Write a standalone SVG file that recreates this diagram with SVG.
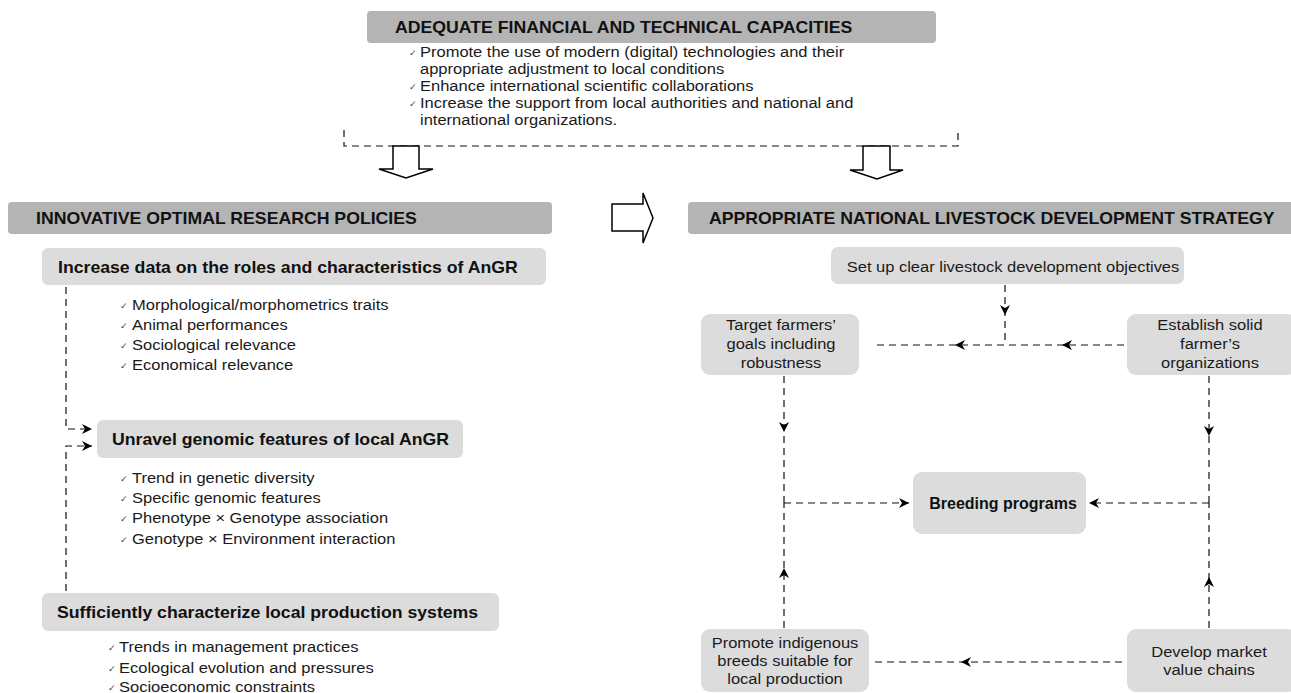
<svg xmlns="http://www.w3.org/2000/svg" width="1291" height="693" viewBox="0 0 1291 693">
<defs>
<style>
.hbox{fill:#b4b4b4}
.sbox{fill:#dcdcdc}
.hd{font-family:"Liberation Sans",Arial,sans-serif;font-weight:bold;font-size:17px;fill:#111}
.bt{font-family:"Liberation Sans",Arial,sans-serif;font-weight:bold;font-size:17px;fill:#111}
.tx{font-family:"Liberation Sans",Arial,sans-serif;font-size:15px;fill:#1a1a1a}
.ck{font-family:"DejaVu Sans",sans-serif;font-size:9px;fill:#444}
.dash{fill:none;stroke:#111;stroke-width:1.2;stroke-dasharray:7 5}
.mid{marker-mid:url(#ah)}
.end{marker-end:url(#ah)}
.hollow{fill:#fff;stroke:#000;stroke-width:1.5;stroke-linejoin:miter}
</style>
<marker id="ah" viewBox="-11 -6 12 12" refX="0" refY="0" markerWidth="12" markerHeight="12" markerUnits="userSpaceOnUse" orient="auto">
<path d="M-10,-5 L0,0 L-10,5 L-7,0 z" fill="#000"/>
</marker>
</defs>
<rect width="1291" height="693" fill="#fff"/>

<g id="n-top">
<rect class="hbox" x="367" y="11" width="569" height="32" rx="4"/>
<text class="hd" transform="translate(395,33) scale(1.04,1)">ADEQUATE FINANCIAL AND TECHNICAL CAPACITIES</text>
<text class="ck" x="409" y="56">✓</text>
<text class="tx" transform="translate(420,57) scale(1.1,1)">Promote the use of modern (digital) technologies and their</text>
<text class="tx" transform="translate(420,74) scale(1.1,1)">appropriate adjustment to local conditions</text>
<text class="ck" x="409" y="90">✓</text>
<text class="tx" transform="translate(420,91) scale(1.1,1)">Enhance international scientific collaborations</text>
<text class="ck" x="409" y="107">✓</text>
<text class="tx" transform="translate(420,108) scale(1.1,1)">Increase the support from local authorities and national and</text>
<text class="tx" transform="translate(420,125) scale(1.1,1)">international organizations.</text>
</g>

<g id="n-left-header">
<rect class="hbox" x="8" y="202" width="544" height="32" rx="4"/>
<text class="hd" transform="translate(36,224) scale(1.04,1)">INNOVATIVE OPTIMAL  RESEARCH POLICIES</text>
</g>

<g id="n-increase">
<rect class="sbox" x="42" y="248" width="504" height="37" rx="6"/>
<text class="bt" transform="translate(58,273) scale(1.04,1)">Increase data on the roles and characteristics of  AnGR</text>
<text class="ck" x="120" y="309">✓</text>
<text class="tx" transform="translate(132,310) scale(1.1,1)">Morphological/morphometrics traits</text>
<text class="ck" x="120" y="329">✓</text>
<text class="tx" transform="translate(132,330) scale(1.1,1)">Animal performances</text>
<text class="ck" x="120" y="349">✓</text>
<text class="tx" transform="translate(132,350) scale(1.1,1)">Sociological relevance</text>
<text class="ck" x="120" y="369">✓</text>
<text class="tx" transform="translate(132,370) scale(1.1,1)">Economical relevance</text>
</g>

<g id="n-unravel">
<rect class="sbox" x="97" y="420" width="366" height="38" rx="6"/>
<text class="bt" transform="translate(112,445) scale(1.04,1)">Unravel genomic features of local AnGR</text>
<text class="ck" x="120" y="482">✓</text>
<text class="tx" transform="translate(132,483) scale(1.1,1)">Trend in genetic diversity</text>
<text class="ck" x="120" y="502">✓</text>
<text class="tx" transform="translate(132,503) scale(1.1,1)">Specific genomic features</text>
<text class="ck" x="120" y="522">✓</text>
<text class="tx" transform="translate(132,523) scale(1.1,1)">Phenotype × Genotype association</text>
<text class="ck" x="120" y="543">✓</text>
<text class="tx" transform="translate(132,544) scale(1.1,1)">Genotype × Environment interaction</text>
</g>

<g id="n-sufficient">
<rect class="sbox" x="42" y="593" width="457" height="38" rx="6"/>
<text class="bt" transform="translate(57,618) scale(1.04,1)">Sufficiently characterize local production systems</text>
<text class="ck" x="108" y="651">✓</text>
<text class="tx" transform="translate(119,652) scale(1.1,1)">Trends in management practices</text>
<text class="ck" x="108" y="672">✓</text>
<text class="tx" transform="translate(119,673) scale(1.1,1)">Ecological evolution and pressures</text>
<text class="ck" x="108" y="691">✓</text>
<text class="tx" transform="translate(119,692) scale(1.1,1)">Socioeconomic constraints</text>
</g>

<g id="n-right-header">
<rect class="hbox" x="688" y="202" width="610" height="32" rx="4"/>
<text class="hd" transform="translate(709,224) scale(1.04,1)">APPROPRIATE NATIONAL LIVESTOCK DEVELOPMENT STRATEGY</text>
</g>

<g id="n-setup">
<rect class="sbox" x="831" y="247" width="353" height="37" rx="7"/>
<text class="tx" text-anchor="middle" transform="translate(1013,272) scale(1.1,1)">Set up clear livestock development objectives</text>
</g>

<g id="n-target">
<rect class="sbox" x="701" y="314" width="158" height="61" rx="9"/>
<text class="tx" text-anchor="middle" transform="translate(781,330) scale(1.1,1)">Target farmers’</text>
<text class="tx" text-anchor="middle" transform="translate(781,349) scale(1.1,1)">goals including</text>
<text class="tx" text-anchor="middle" transform="translate(781,368) scale(1.1,1)">robustness</text>
</g>

<g id="n-establish">
<rect class="sbox" x="1127" y="314" width="170" height="61" rx="9"/>
<text class="tx" text-anchor="middle" transform="translate(1210,330) scale(1.1,1)">Establish solid</text>
<text class="tx" text-anchor="middle" transform="translate(1210,349) scale(1.1,1)">farmer’s</text>
<text class="tx" text-anchor="middle" transform="translate(1210,368) scale(1.1,1)">organizations</text>
</g>

<g id="n-breeding">
<rect class="sbox" x="913" y="472" width="173" height="62" rx="9"/>
<text class="bt" text-anchor="middle" style="font-size:16px" transform="translate(1003,509)">Breeding programs</text>
</g>

<g id="n-promote">
<rect class="sbox" x="701" y="629" width="168" height="63" rx="9"/>
<text class="tx" text-anchor="middle" transform="translate(785,648) scale(1.1,1)">Promote indigenous</text>
<text class="tx" text-anchor="middle" transform="translate(785,666) scale(1.1,1)">breeds suitable for</text>
<text class="tx" text-anchor="middle" transform="translate(785,684) scale(1.1,1)">local production</text>
</g>

<g id="n-develop">
<rect class="sbox" x="1127" y="629" width="170" height="63" rx="9"/>
<text class="tx" text-anchor="middle" transform="translate(1209,657) scale(1.1,1)">Develop market</text>
<text class="tx" text-anchor="middle" transform="translate(1209,675) scale(1.1,1)">value chains</text>
</g>

<g id="connectors">
<path class="dash" d="M344,130 V146 H958 V130"/>
<path class="hollow" d="M393,146 H419 V169 H433 L406,178 L379,169 H393 Z"/>
<path class="hollow" d="M863,146 H890 V170 H903 L877,179 L850,170 H863 Z"/>
<path class="hollow" d="M612,204 H643 V193 L653,218 L643,243 V231 H612 Z"/>
<path class="dash end" d="M66,287 V429 H92"/>
<path class="dash end" d="M66,591 V446 H92"/>
<path class="dash mid" d="M1005,285 L1005,315 L1005,345"/>
<path class="dash mid" d="M1124,345 L1062,345 L955,345 L874,345"/>
<path class="dash mid" d="M784,376 L784,432 L784,503"/>
<path class="dash mid" d="M784,628 L784,568 L784,503"/>
<path class="dash end" d="M784,503 L909,503"/>
<path class="dash mid" d="M1209,376 L1209,436 L1209,503"/>
<path class="dash mid" d="M1209,628 L1209,577 L1209,503"/>
<path class="dash end" d="M1209,503 L1089,503"/>
<path class="dash mid" d="M1122,662 L961,662 L873,662"/>
</g>
</svg>
